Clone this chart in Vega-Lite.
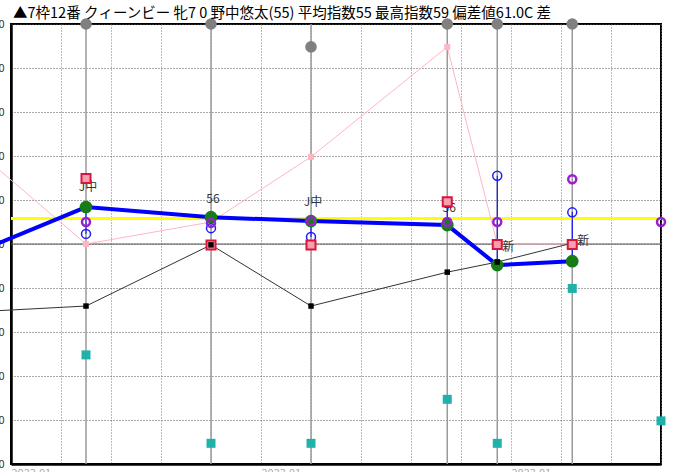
{
  "$schema": "https://vega.github.io/schema/vega-lite/v6.json",
  "width": 650,
  "height": 440,
  "autosize": {"type": "none"},
  "padding": {"left": 11, "top": 24, "right": 24, "bottom": 8},
  "background": "white",
  "title": {
    "text": "▲7枠12番 クィーンビー 牝7 0 野中悠太(55) 平均指数55 最高指数59 偏差値61.0C 差",
    "anchor": "start",
    "frame": "group",
    "offset": 0,
    "dy": 3,
    "dx": 2,
    "fontSize": 14.5,
    "fontWeight": "normal",
    "font": "Noto Sans CJK JP",
    "color": "#000"
  },
  "config": {
    "view": {"stroke": "#000", "strokeWidth": 2},
    "font": "Noto Sans CJK JP"
  },
  "datasets": {
    "vrules": [
      {"x": 3, "v": 0, "v2": 100}, {"x": 8, "v": 0, "v2": 100}, {"x": 12, "v": 0, "v2": 100},
      {"x": 17.45, "v": 0, "v2": 100}, {"x": 19.45, "v": 0, "v2": 100}, {"x": 22.45, "v": 0, "v2": 100}
    ],
    "hrules": [{"x": 0, "x2": 26, "v": 50}],
    "yellow": [{"x": 0, "x2": 26, "v": 55.8}],
    "blueLine": [
      {"x": -1, "v": 49}, {"x": 3, "v": 58.4}, {"x": 8, "v": 56.1}, {"x": 12, "v": 55.2},
      {"x": 17.45, "v": 54.3}, {"x": 19.45, "v": 45.2}, {"x": 22.45, "v": 46.1}
    ],
    "blackLine": [
      {"x": -1, "v": 34.7}, {"x": 3, "v": 35.9}, {"x": 8, "v": 49.8}, {"x": 12, "v": 35.9},
      {"x": 17.45, "v": 43.6}, {"x": 19.45, "v": 45.9}, {"x": 22.45, "v": 50.2}
    ],
    "blackPts": [
      {"x": 3, "v": 35.9}, {"x": 8, "v": 49.8}, {"x": 12, "v": 35.9},
      {"x": 17.45, "v": 43.6}, {"x": 19.45, "v": 45.9}
    ],
    "pinkLine": [
      {"x": -1, "v": 69.4}, {"x": 3, "v": 50}, {"x": 8, "v": 55}, {"x": 12, "v": 69.8},
      {"x": 17.45, "v": 94.8}, {"x": 19.45, "v": 50}, {"x": 22.45, "v": 50}
    ],
    "connectors": [
      {"x": 3, "v": 52.3, "v2": 58.4}, {"x": 8, "v": 53.6, "v2": 56.1}, {"x": 12, "v": 51.6, "v2": 55.2},
      {"x": 17.45, "v": 54.3, "v2": 59.6}, {"x": 19.45, "v": 45.2, "v2": 65.5}, {"x": 22.45, "v": 46.1, "v2": 57.3}
    ],
    "purple": [
      {"x": 3, "v": 55}, {"x": 8, "v": 54.8}, {"x": 12, "v": 55.2}, {"x": 17.45, "v": 55},
      {"x": 19.45, "v": 55}, {"x": 22.45, "v": 64.7}, {"x": 26, "v": 55}
    ],
    "blueCirc": [
      {"x": 3, "v": 52.3}, {"x": 8, "v": 53.6}, {"x": 12, "v": 51.6}, {"x": 17.45, "v": 59.3},
      {"x": 19.45, "v": 65.5}, {"x": 22.45, "v": 57.2}
    ],
    "red": [
      {"x": 3, "v": 64.9}, {"x": 8, "v": 49.8}, {"x": 12, "v": 49.8}, {"x": 17.45, "v": 59.6},
      {"x": 19.45, "v": 49.9}, {"x": 22.45, "v": 49.9}
    ],
    "teal": [
      {"x": 3, "v": 24.8}, {"x": 8, "v": 4.7}, {"x": 12, "v": 4.7}, {"x": 17.45, "v": 14.7},
      {"x": 19.45, "v": 4.7}, {"x": 22.45, "v": 39.9}, {"x": 26, "v": 9.8}
    ],
    "gray": [
      {"x": 3, "v": 100}, {"x": 8, "v": 100}, {"x": 12, "v": 94.8}, {"x": 17.45, "v": 100},
      {"x": 19.45, "v": 100}, {"x": 22.45, "v": 100}
    ],
    "labels": [
      {"x": 3, "v": 63, "t": "J中"}, {"x": 8, "v": 60.2, "t": "56"}, {"x": 12, "v": 59.5, "t": "J中"}, {"x": 17.45, "v": 58.2, "t": "56"}
    ],
    "newLabels": [
      {"x": 19.45, "v": 49.3, "t": "新"}, {"x": 22.45, "v": 50.6, "t": "新"}
    ]
  },
  "encoding": {
    "x": {
      "field": "x", "type": "quantitative", "title": null,
      "scale": {"domain": [0, 26], "nice": false, "zero": false}
    },
    "y": {
      "field": "v", "type": "quantitative", "title": null,
      "scale": {"domain": [0, 100], "nice": false, "zero": false}
    }
  },
  "layer": [
    {
      "data": {"name": "vrules"},
      "mark": {"type": "rule", "color": "#9a9a9a", "strokeWidth": 1.5, "clip": false},
      "encoding": {
        "x": {
          "field": "x", "type": "quantitative", "title": null,
          "scale": {"domain": [0, 26], "nice": false, "zero": false},
          "axis": {
            "values": [0,1,2,3,4,5,6,7,8,9,10,11,12,13,14,15,16,17,18,19,20,21,22,23,24,25,26],
            "grid": true, "gridColor": "#777", "gridDash": [1, 2], "gridWidth": 1,
            "ticks": false, "domain": true, "domainColor": "#000", "domainWidth": 2.5,
            "labelExpr": "datum.value % 5 === 0 && datum.value < 26 ? '2023.01' : ''",
            "labelAlign": "left", "labelBaseline": "top", "labelPadding": 3,
            "labelFontSize": 11, "labelColor": "#aaa", "labelFlush": false, "labelOverlap": false
          }
        },
        "y": {
          "field": "v", "type": "quantitative", "title": null,
          "scale": {"domain": [0, 100], "nice": false, "zero": false},
          "axis": {
            "values": [0,10,20,30,40,50,60,70,80,90,100],
            "grid": true, "gridColor": "#555", "gridDash": [1, 2], "gridWidth": 1,
            "ticks": false, "domain": true, "domainColor": "#000", "domainWidth": 2.5,
            "labelAlign": "right", "labelPadding": 7, "labelFontSize": 11, "labelColor": "#333",
            "labelFlush": false, "labelOverlap": false
          }
        },
        "y2": {"field": "v2"}
      }
    },
    {
      "data": {"name": "hrules"},
      "mark": {"type": "rule", "color": "#555", "strokeWidth": 1},
      "encoding": {"x2": {"field": "x2"}}
    },
    {
      "data": {"name": "yellow"},
      "mark": {"type": "rule", "color": "#ffff00", "strokeWidth": 3},
      "encoding": {"x2": {"field": "x2"}}
    },
    {
      "data": {"name": "pinkLine"},
      "mark": {"type": "line", "color": "#ffb6c1", "strokeWidth": 1, "clip": false},
      "encoding": {}
    },
    {
      "data": {"name": "blackLine"},
      "mark": {"type": "line", "color": "#333", "strokeWidth": 1, "clip": false},
      "encoding": {}
    },
    {
      "data": {"name": "connectors"},
      "mark": {"type": "rule", "color": "#0000ff", "strokeWidth": 1},
      "encoding": {"y2": {"field": "v2"}}
    },
    {
      "data": {"name": "blueLine"},
      "mark": {"type": "line", "color": "#0000ff", "strokeWidth": 4, "clip": false},
      "encoding": {}
    },
    {
      "data": {"name": "pinkLine"},
      "transform": [{"filter": "datum.x >= 0"}],
      "mark": {"type": "square", "color": "#ffb6c1", "opacity": 1, "size": 36, "filled": true}
    },
    {
      "data": {"name": "teal"},
      "mark": {"type": "square", "color": "#20b2aa", "opacity": 1, "size": 81, "filled": true, "clip": false}
    },
    {
      "data": {"name": "labels"},
      "mark": {"type": "text", "fontSize": 12, "color": "#333", "align": "center", "baseline": "middle", "dx": 2, "font": "Noto Sans CJK JP"},
      "encoding": {"text": {"field": "t"}}
    },
    {
      "data": {"name": "blueLine"},
      "transform": [{"filter": "datum.x >= 0"}],
      "mark": {"type": "circle", "color": "#167d16", "opacity": 1, "size": 160}
    },
    {
      "data": {"name": "blueCirc"},
      "mark": {"type": "point", "shape": "circle", "filled": false, "color": "#1a1aff", "strokeWidth": 1.5, "opacity": 1, "size": 80}
    },
    {
      "data": {"name": "purple"},
      "mark": {"type": "point", "shape": "circle", "filled": false, "color": "#9a1fd0", "strokeWidth": 2.5, "opacity": 1, "size": 64, "clip": false}
    },
    {
      "data": {"name": "red"},
      "mark": {"type": "square", "fill": "#f4a0b0", "stroke": "#dc143c", "strokeWidth": 2, "opacity": 1, "size": 81}
    },
    {
      "data": {"name": "blackPts"},
      "mark": {"type": "square", "color": "#000", "opacity": 1, "size": 30, "filled": true}
    },
    {
      "data": {"name": "newLabels"},
      "mark": {"type": "text", "fontSize": 12, "color": "#333", "align": "left", "baseline": "middle", "dx": 5, "font": "Noto Sans CJK JP"},
      "encoding": {"text": {"field": "t"}}
    },
    {
      "data": {"name": "gray"},
      "mark": {"type": "circle", "color": "#808080", "opacity": 1, "size": 135, "clip": false}
    }
  ]
}
